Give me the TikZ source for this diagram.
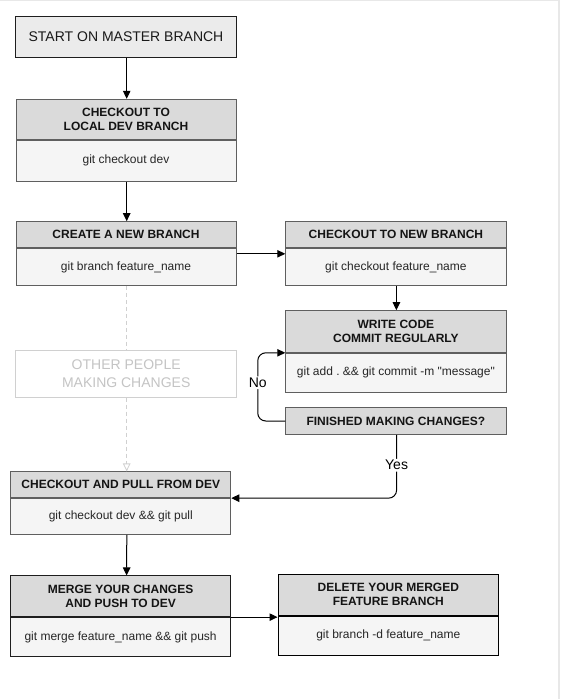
\documentclass[tikz,border=0pt]{standalone}
\usepackage{fontspec}
\setmainfont{Liberation Sans}
\usepackage{tikz}
\usetikzlibrary{arrows.meta,positioning,calc}
\definecolor{headbg}{RGB}{218,218,218}
\definecolor{bodybg}{RGB}{245,245,245}
\definecolor{startbg}{RGB}{235,235,235}
\definecolor{boxline}{RGB}{95,95,95}
\definecolor{darkline}{RGB}{30,30,30}
\definecolor{ghostline}{RGB}{208,208,208}
\definecolor{ghosttext}{RGB}{196,196,196}
\definecolor{frameline}{RGB}{232,232,232}
\newcommand{\headfont}{\fontsize{12}{14.3}\selectfont\bfseries}
\newcommand{\bodyfont}{\fontsize{12}{14}\selectfont\frenchspacing}
\tikzset{
  startbox/.style={draw=darkline, fill=startbg, line width=1pt, inner sep=0pt,
    minimum width=221pt, minimum height=41pt, align=center,
    font=\fontsize{14}{16}\selectfont, text=black!90},
  stephead/.style={draw=boxline, fill=headbg, line width=1pt, inner sep=0pt,
    minimum width=220pt, minimum height=26pt, align=center,
    font=\headfont, text=black!92},
  stepbody/.style={draw=boxline, fill=bodybg, line width=1pt, inner sep=0pt,
    minimum width=220pt, minimum height=37pt, align=center,
    font=\bodyfont, text=black!85},
  ghostbox/.style={draw=ghostline, fill=white, line width=1pt, inner sep=0pt,
    minimum width=221pt, minimum height=47pt, align=center,
    font=\fontsize{14}{18.5}\selectfont, text=ghosttext},
  flowlabel/.style={font=\fontsize{14}{16}\selectfont, fill=white, inner sep=1.5pt},
  arrow/.style={-{Triangle[length=8pt,width=7.5pt]}, line width=1pt, draw=black},
  ghostarrow/.style={-{Triangle[open,length=8pt,width=7.5pt]}, line width=0.8pt,
    draw=ghostline, dash pattern=on 4pt off 3pt}
}

\begin{document}
\begin{tikzpicture}[x=1pt,y=-1pt]
  \useasboundingbox (0,0) rectangle (560,699);
  \draw[frameline, line width=1.5pt] (0,0.5) -- (559.2,0.5) -- (559.2,699);

  % left column
  \node[startbox] (start) at (126,36.7) {START ON MASTER BRANCH};
  \node[stephead, minimum height=40pt] (devhead) at (126,119.3)
    {CHECKOUT TO\\LOCAL DEV BRANCH};
  \node[stepbody, minimum height=40.7pt, below=0pt of devhead] (devbody)
    {git checkout dev};
  \node[stephead] (branchhead) at (126,234.7) {CREATE A NEW BRANCH};
  \node[stepbody, minimum height=36.6pt, below=0pt of branchhead] (branchbody)
    {git branch feature\_name};
  \node[ghostbox] (other) at (126.2,373.7) {OTHER PEOPLE\\MAKING CHANGES};
  \node[stephead, minimum height=25.7pt] (pullhead) at (120.8,484.8)
    {CHECKOUT AND PULL FROM DEV};
  \node[stepbody, minimum height=35.6pt, below=0pt of pullhead] (pullbody)
    {git checkout dev \&\& git pull};
  \node[stephead, draw=darkline, minimum height=40.7pt] (mergehead) at (120.6,596.3)
    {MERGE YOUR CHANGES\\AND PUSH TO DEV};
  \node[stepbody, draw=darkline, minimum height=39.3pt, below=0pt of mergehead] (mergebody)
    {git merge feature\_name \&\& git push};

  % right column
  \node[stephead, minimum width=220.3pt] (newhead) at (395.9,234.7)
    {CHECKOUT TO NEW BRANCH};
  \node[stepbody, minimum width=220.3pt, minimum height=36.6pt, below=0pt of newhead] (newbody)
    {git checkout feature\_name};
  \node[stephead, minimum width=220.3pt, minimum height=41.6pt] (codehead) at (395.9,331.5)
    {WRITE CODE\\COMMIT REGULARLY};
  \node[stepbody, minimum width=220.3pt, minimum height=39pt, below=0pt of codehead] (codebody)
    {git add . \&\& git commit -m \textquotedbl message\textquotedbl};
  \node[stephead, minimum width=220.3pt, minimum height=26.6pt] (finished) at (395.9,421)
    {FINISHED MAKING CHANGES?};
  \node[stephead, draw=black, minimum width=220.6pt, minimum height=40.7pt] (delhead) at (388.3,594.7)
    {DELETE YOUR MERGED\\FEATURE BRANCH};
  \node[stepbody, draw=black, minimum width=220.6pt, minimum height=39pt, below=0pt of delhead] (delbody)
    {git branch -d feature\_name};

  % connectors
  \draw[arrow] ([xshift=0.7pt]start.south) -- ([xshift=0.7pt]devhead.north);
  \draw[arrow] ([xshift=0.7pt]devbody.south) -- ([xshift=0.7pt]branchhead.north);
  \draw[arrow] ([yshift=-5.6pt]branchbody.north east) -- ([yshift=-5.6pt]newbody.north west);
  \draw[arrow] ([xshift=0.5pt]newbody.south) -- ([xshift=0.5pt]codehead.north);
  \draw[arrow, rounded corners=8pt] (finished.west) -|
    node[flowlabel, pos=0.78]{No} ([xshift=-27.5pt]codehead.south west) -- (codehead.south west);
  \draw[arrow, rounded corners=8pt] ([xshift=0.7pt]finished.south) |-
    node[flowlabel, pos=0.24]{Yes} (pullhead.south east);
  \draw[ghostarrow, -] ([xshift=0.7pt]branchbody.south) -- ([xshift=0.5pt]other.north);
  \draw[ghostarrow] ([xshift=0.5pt]other.south) -- ([xshift=0.5pt]other.south |- pullhead.north);
  \draw[arrow] ([xshift=6pt]pullbody.south) -- ([xshift=6pt]mergehead.north);
  \draw[arrow] (mergehead.south east) -- (mergehead.south east -| delhead.west);
\end{tikzpicture}
\end{document}
